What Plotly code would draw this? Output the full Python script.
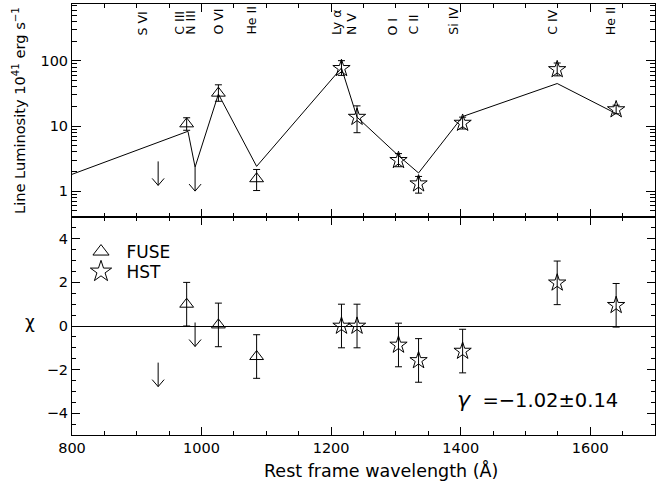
import numpy as np
import plotly.graph_objects as go
from plotly.subplots import make_subplots

# ---------------- data ----------------
# FUSE line measurements (triangles)
fuse_wl = [977, 1026, 1085]
fuse_lum = [10.8, 32.0, 1.55]
fuse_lum_up = [2.6, 11.0, 0.6]
fuse_lum_dn = [2.2, 8.0, 0.53]
fuse_chi = [1.0, 0.05, -1.4]
fuse_chi_err = [1.0, 1.0, 1.0]

# HST line measurements (stars)
hst_wl = [1216, 1240, 1304, 1335, 1403, 1549, 1640]
hst_lum = [77.0, 13.7, 2.97, 1.3, 11.1, 74.0, 17.9]
hst_lum_up = [24.0, 6.7, 0.8, 0.38, 2.6, 19.0, 3.0]
hst_lum_dn = [17.0, 5.8, 0.6, 0.37, 2.1, 15.0, 2.5]
hst_chi = [0.0, 0.0, -0.87, -1.58, -1.15, 1.98, 0.95]
hst_chi_err = [1.0, 1.0, 1.0, 1.0, 1.0, 1.0, 1.0]

# upper limits (S VI, N III)
lim_wl = [933, 990]
lim_lum = [2.86, 2.34]
lim_chi = [-1.68, 0.16]

# model curve
model_wl = [800, 979, 990, 1026, 1085, 1216, 1240, 1304, 1335, 1403, 1549, 1640]
model_lum = [1.81, 8.3, 2.34, 31.0, 2.4, 78.0, 13.7, 3.5, 1.9, 14.0, 45.0, 15.5]

# line identification labels
label_txt = ["S VI", "C III", "N III", "O VI", "He II", "Ly α", "N V",
             "O I", "C II", "Si IV", "C IV", "He II"]
label_wl = [918, 974, 991, 1034, 1085, 1216, 1240, 1304, 1335, 1397, 1549, 1640]

gamma_text = "=−1.02±0.14"

# ---------------- figure ----------------
FONT = "DejaVu Sans"
L, R, T, B = 72, 13, 4, 50
W, H = 668, 485
PH = H - T - B  # plot height in px


def py(pix):
    """paper y from a pixel row"""
    return (H - B - pix) / PH


def px(pix):
    return (pix - L) / (W - L - R)


fig = make_subplots(rows=2, cols=1, shared_xaxes=True, vertical_spacing=0,
                    row_heights=[213, 218])

err_style = dict(color="black", thickness=1, width=3.5)
tri = dict(symbol="triangle-up-open", size=12, color="black", line=dict(width=1, color="black"))
star = dict(symbol="star-open", size=13, color="black", line=dict(width=1, color="black"))

# model line
fig.add_trace(go.Scatter(x=model_wl, y=model_lum, mode="lines",
                         line=dict(color="black", width=1), showlegend=False),
              row=1, col=1)

# FUSE top
fig.add_trace(go.Scatter(x=fuse_wl, y=fuse_lum, mode="markers", marker=tri,
                         error_y=dict(type="data", array=fuse_lum_up, arrayminus=fuse_lum_dn,
                                      symmetric=False, **err_style),
                         showlegend=False), row=1, col=1)
# HST top
fig.add_trace(go.Scatter(x=hst_wl, y=hst_lum, mode="markers", marker=star,
                         error_y=dict(type="data", array=hst_lum_up, arrayminus=hst_lum_dn,
                                      symmetric=False, **err_style),
                         showlegend=False), row=1, col=1)

# FUSE bottom
fig.add_trace(go.Scatter(x=fuse_wl, y=fuse_chi, mode="markers", marker=tri,
                         error_y=dict(type="data", array=fuse_chi_err, **err_style),
                         showlegend=False), row=2, col=1)
# HST bottom
fig.add_trace(go.Scatter(x=hst_wl, y=hst_chi, mode="markers", marker=star,
                         error_y=dict(type="data", array=hst_chi_err, **err_style),
                         showlegend=False), row=2, col=1)

# legend entries (larger symbols as in the original legend)
fig.add_trace(go.Scatter(x=[None], y=[None], mode="markers", name=" FUSE",
                         marker=dict(symbol="triangle-up-open", size=14, color="black",
                                     line=dict(width=1, color="black")),
                         legend="legend"), row=2, col=1)
fig.add_trace(go.Scatter(x=[None], y=[None], mode="markers", name=" HST",
                         marker=dict(symbol="star-open", size=16, color="black",
                                     line=dict(width=1, color="black")),
                         legend="legend2"), row=2, col=1)

# upper-limit arrows (fixed pixel size, anchored at data values)
arrow_path = "M0,0 L0,-24 M-6,-17 L0,-24 L6,-17"
shapes = []
for wl, lum, chi in zip(lim_wl, lim_lum, lim_chi):
    for xr, yr, yv in (("x", "y", lum), ("x2", "y2", chi)):
        shapes.append(dict(type="path", xref=xr, yref=yr, xsizemode="pixel",
                           ysizemode="pixel", xanchor=wl, yanchor=yv, path=arrow_path,
                           line=dict(color="black", width=1)))

annotations = []
# line labels
for t, wl in zip(label_txt, label_wl):
    annotations.append(dict(x=wl, y=py(37), xref="x", yref="paper",
                            text=t, textangle=-90, showarrow=False, xshift=-5,
                            xanchor="center", yanchor="bottom",
                            font=dict(family=FONT, size=12.5, color="black")))

# axis titles
annotations.append(dict(x=px(19), y=py(111), xref="paper", yref="paper",
                        text="Line Luminosity 10<sup>41</sup> erg s<sup>−1</sup>",
                        textangle=-90, showarrow=False, xanchor="center", yanchor="middle",
                        font=dict(family=FONT, size=14.6, color="black")))
annotations.append(dict(x=px(30), y=py(322), xref="paper", yref="paper",
                        text="χ", showarrow=False, xanchor="center", yanchor="middle",
                        font=dict(family=FONT, size=17, color="black")))
annotations.append(dict(x=px(381), y=py(470), xref="paper", yref="paper",
                        text="Rest frame wavelength (Å)", showarrow=False,
                        xanchor="center", yanchor="middle",
                        font=dict(family=FONT, size=17.5, color="black")))
annotations.append(dict(x=1391, y=-3.35, xref="x2", yref="y2",
                        text="<span style='font-size:22px'><i>γ</i></span>  " + gamma_text,
                        showarrow=False, xanchor="left", yanchor="middle",
                        font=dict(family=FONT, size=19.5, color="black")))

axis_common = dict(showline=True, linecolor="black", linewidth=1, mirror="ticks",
                   ticks="inside", tickcolor="black", showgrid=False, zeroline=False,
                   tickfont=dict(family=FONT, size=14.5, color="black"))

fig.update_xaxes(range=[800, 1700], dtick=200, tick0=800, ticklen=8,
                 minor=dict(dtick=50, ticks="inside", ticklen=4, tickcolor="black"),
                 **axis_common)
fig.update_xaxes(showticklabels=False, row=1, col=1)

fig.update_yaxes(type="log", range=[np.log10(0.4), np.log10(750)],
                 tickvals=[1, 10, 100], ticktext=["1", "10", "100"], ticklen=9,
                 minor=dict(ticks="inside", ticklen=5, tickcolor="black",
                            tickvals=[v * d for d in (0.1, 1, 10, 100) for v in range(2, 10)]),
                 row=1, col=1, **axis_common)
axis2 = dict(axis_common)
axis2["zeroline"] = True
fig.update_yaxes(range=[-5, 5], dtick=2, tick0=0, ticklen=8, zerolinecolor="black",
                 zerolinewidth=1,
                 minor=dict(dtick=0.5, ticks="inside", ticklen=4, tickcolor="black"),
                 row=2, col=1, **axis2)

legend_common = dict(xanchor="left", yanchor="middle", bgcolor="rgba(0,0,0,0)",
                     font=dict(family=FONT, size=17, color="black"), itemsizing="trace")
fig.update_layout(width=W, height=H,
                  margin=dict(l=L, r=R, t=T, b=B),
                  paper_bgcolor="white", plot_bgcolor="white",
                  font=dict(family=FONT, size=14, color="black"),
                  annotations=annotations, shapes=shapes,
                  legend=dict(x=px(81), y=py(252), **legend_common),
                  legend2=dict(x=px(81), y=py(272), **legend_common))

fig.write_html("out.html", config={"displayModeBar": False},
               post_script="document.body.style.margin='0';")
